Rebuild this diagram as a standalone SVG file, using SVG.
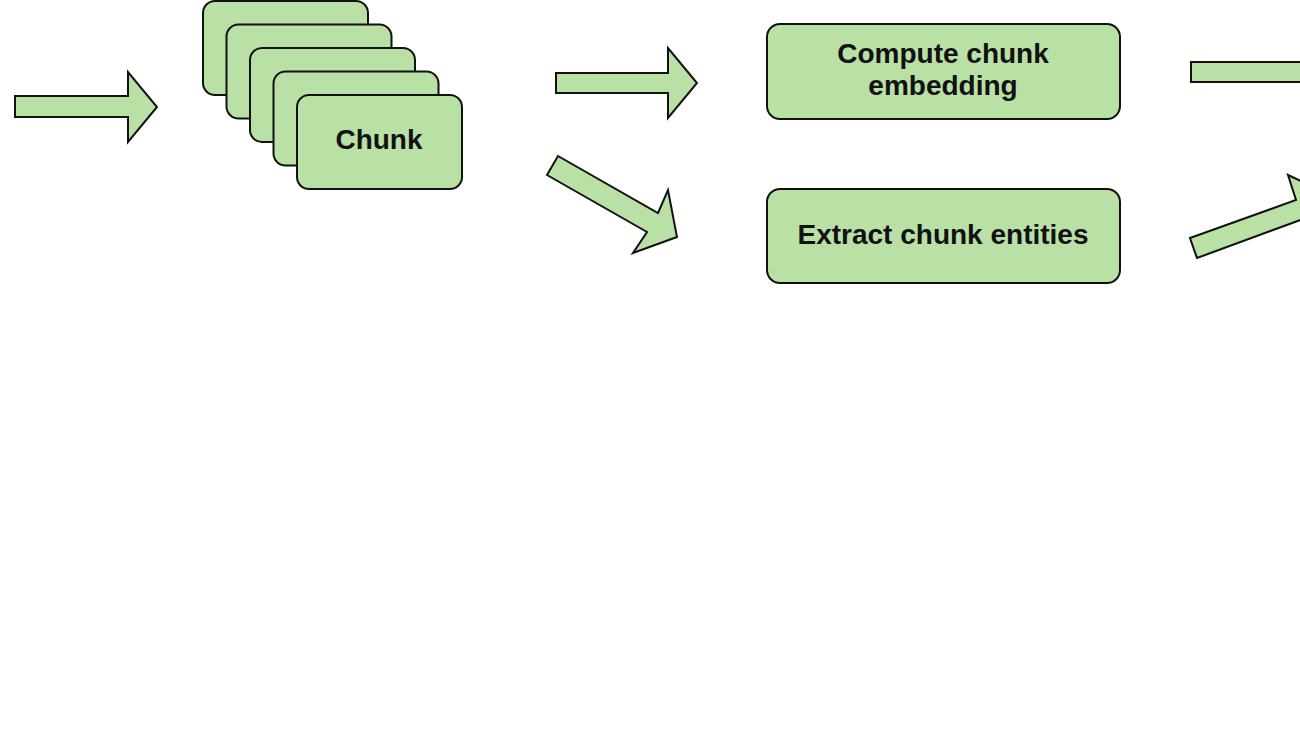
<svg xmlns="http://www.w3.org/2000/svg" width="1300" height="731" viewBox="0 0 1300 731">
<style>
.box{fill:#b9e0a5;stroke:#111;stroke-width:2}
.arr{fill:#b9e0a5;stroke:#111;stroke-width:2;stroke-linejoin:miter}
.t{font-family:"Liberation Sans",Arial,sans-serif;font-weight:bold;font-size:28px;fill:#111;text-anchor:middle}
</style>
<rect width="1300" height="731" fill="#fff"/>
<g id="connectors">
<polygon class="arr" points="15,96 128,96 128,72 157,107 128,142 128,117 15,117"/>
<polygon class="arr" points="556,73 668,73 668,48 697,83 668,118 668,93 556,93"/>
<polygon class="arr" points="558,156 658,213 668,190 677,237 633,253 647,232 547,175"/>
<polygon class="arr" points="1191,62 1320,62 1320,82 1191,82"/>
<polygon class="arr" points="1190,238 1296,200 1288,175 1330,195 1310,240 1303,219 1197,258"/>
</g>
<g id="chunk1"><rect class="box" x="203" y="1" width="165" height="94" rx="12"/></g>
<g id="chunk2"><rect class="box" x="226.5" y="24.5" width="165" height="94" rx="12"/></g>
<g id="chunk3"><rect class="box" x="250" y="48" width="165" height="94" rx="12"/></g>
<g id="chunk4"><rect class="box" x="273.5" y="71.5" width="165" height="94" rx="12"/></g>
<g id="chunk5"><rect class="box" x="297" y="95" width="165" height="94" rx="12"/><text class="t" x="379" y="149">Chunk</text></g>
<g id="compute"><rect class="box" x="767" y="24" width="353" height="95" rx="13"/><text class="t" x="943" y="63">Compute chunk</text><text class="t" x="943" y="95">embedding</text></g>
<g id="extract"><rect class="box" x="767" y="189" width="353" height="94" rx="13"/><text class="t" x="943" y="244">Extract chunk entities</text></g>
</svg>
